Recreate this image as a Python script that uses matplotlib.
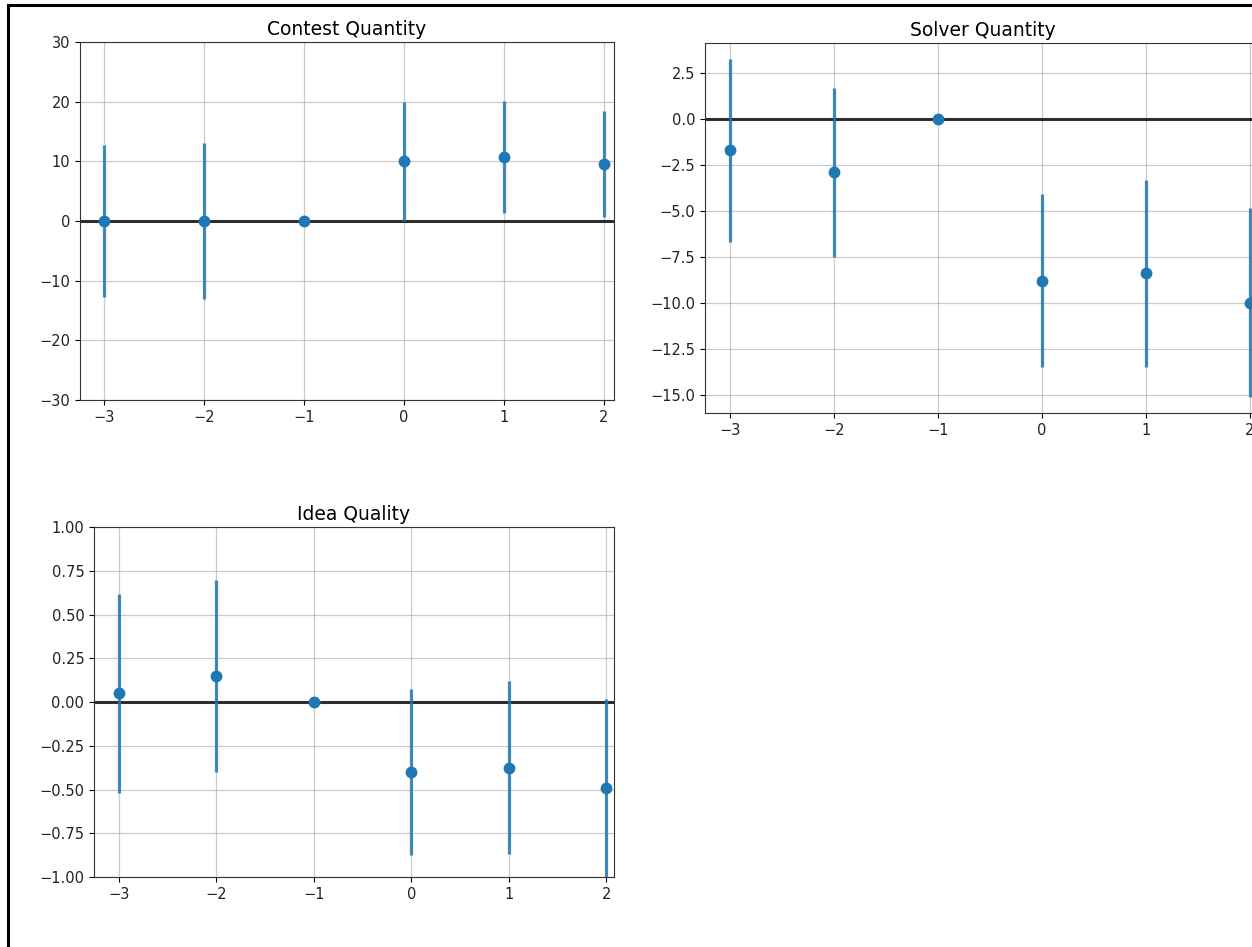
import numpy as np
import matplotlib
matplotlib.use('Agg')
import matplotlib.pyplot as plt
from matplotlib.lines import Line2D

# event time relative to treatment
periods = [-3, -2, -1, 0, 1, 2]

contest_est = [0.0, 0.0, 0.0, 10.0, 10.7, 9.6]
contest_err = [12.8, 13.0, 0.0, 10.0, 9.4, 8.85]

solver_est = [-1.7, -2.9, 0.0, -8.8, -8.4, -10.0]
solver_err = [5.0, 4.6, 0.0, 4.7, 5.1, 5.15]

quality_est = [0.05, 0.15, 0.0, -0.40, -0.375, -0.49]
quality_err = [0.57, 0.55, 0.0, 0.475, 0.495, 0.51]

fig = plt.figure(figsize=(12.52, 9.47), dpi=100)

W, H = 1252, 947
def box(l, r, t, b):
    return [l / W, 1 - b / H, (r - l) / W, (b - t) / H]

panels = [
    ('Contest Quantity', contest_est, contest_err, box(80, 614, 42, 400), (-30, 30), None),
    ('Solver Quantity', solver_est, solver_err, box(705, 1260, 43, 413), (-16.0, 4.15), None),
    ('Idea Quality', quality_est, quality_err, box(94, 614, 527, 877), (-1, 1), (-3.255, 2.08)),
]

ecol = (0.122, 0.467, 0.706, 0.85)
for title, est, err, pos, ylim, xlim in panels:
    ax = fig.add_axes(pos)
    ax.grid(True, color='#b0b0b0', alpha=0.65, linewidth=0.9)
    ax.set_axisbelow(True)
    ax.axhline(0, color='black', alpha=0.8, linewidth=2.2, zorder=2)
    ax.errorbar(periods, est, yerr=err, fmt='o', color='#1f77b4', ms=7.5,
                ecolor=ecol, elinewidth=2.3, capsize=0, zorder=3)
    ax.set_title(title, fontsize=13.5, pad=5)
    ax.set_ylim(ylim)
    if xlim is None:
        ax.set_xlim(-3.24, 2.1)
    else:
        ax.set_xlim(xlim)
    ax.set_xticks(periods)
    ax.tick_params(labelsize=10.5, labelcolor='#222222')
    if title == 'Contest Quantity':
        ax.set_yticks([-30, -20, -10, 0, 10, 20, 30])
    elif title == 'Solver Quantity':
        ax.set_yticks(np.arange(-15, 2.6, 2.5))
    else:
        ax.set_yticks(np.arange(-1, 1.01, 0.25))
    for s in ax.spines.values():
        s.set_color('#333333')

# frame around the figure (only left/top visible in the crop)
fig.add_artist(Line2D([8 / W, 8 / W], [0, 1 - 5 / H], color='black', linewidth=2.2))
fig.add_artist(Line2D([8 / W, 1], [1 - 5 / H, 1 - 5 / H], color='black', linewidth=2.2))

fig.savefig('out.png', dpi=100)
